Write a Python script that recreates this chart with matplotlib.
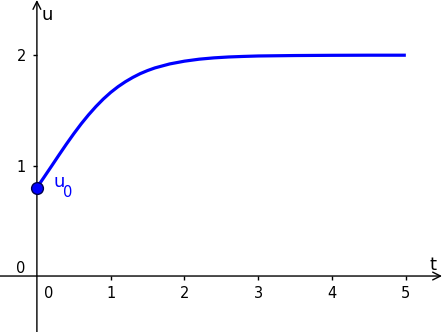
import numpy as np
import matplotlib.pyplot as plt

# values
t = [0, 0.1, 0.2, 0.3, 0.4, 0.5, 0.6, 0.7, 0.8, 0.9, 1.0, 1.1, 1.2, 1.3, 1.4,
     1.5, 1.6, 1.8, 2.0, 2.2, 2.4, 2.6, 2.8, 3.0, 3.5, 4.0, 4.5, 5.0]
u = [0.800, 0.898, 0.997, 1.097, 1.195, 1.289, 1.378, 1.460, 1.535, 1.603, 1.663,
     1.715, 1.760, 1.799, 1.833, 1.861, 1.885, 1.921, 1.946, 1.964, 1.976, 1.984,
     1.989, 1.993, 1.997, 1.999, 2.0, 2.0]
u0 = 0.8
xticks = [1, 2, 3, 4, 5]
yticks = [1, 2]

fig = plt.figure(figsize=(4.42, 3.32), dpi=100)
ax = fig.add_axes([0, 0, 1, 1])
ax.set_xlim(-0.50, 5.49)
ax.set_ylim(-0.507, 2.50)
ax.spines['top'].set_visible(False)
ax.spines['right'].set_visible(False)
# spines only carry the ticks, the axis lines are drawn as arrows
ax.spines['bottom'].set_position(('data', 0))
ax.spines['left'].set_position(('data', 0))
ax.spines['bottom'].set_color('none')
ax.spines['left'].set_color('none')

ax.annotate('', xy=(1, 0), xytext=(0, 0),
            xycoords=('axes fraction', 'data'), textcoords=('axes fraction', 'data'),
            arrowprops=dict(arrowstyle='->', lw=1, color='black', shrinkA=0, shrinkB=0,
                            mutation_scale=14))
ax.annotate('', xy=(0, 1), xytext=(0, 0),
            xycoords=('data', 'axes fraction'), textcoords=('data', 'axes fraction'),
            arrowprops=dict(arrowstyle='->', lw=1, color='black', shrinkA=0, shrinkB=0,
                            mutation_scale=14))

ax.set_xticks(xticks)
ax.set_yticks(yticks)
ax.tick_params(axis='x', direction='out', length=3, width=1, pad=4, labelsize=10.5,
               color='black')
ax.tick_params(axis='y', direction='out', length=3, width=1, pad=5, labelsize=10.5,
               color='black')

ax.text(0.16, -0.09, '0', fontsize=10.5, ha='center', va='top')
ax.text(-0.15, 0.07, '0', fontsize=10.5, ha='right', va='center')

ax.text(0.06, 2.36, 'u', fontsize=13, ha='left', va='center')
ax.text(5.41, 0.10, 't', fontsize=13, ha='right', va='center')

ax.plot(t, u, color='#0000ff', lw=2.3, solid_capstyle='butt', solid_joinstyle='round',
        zorder=3)
ax.plot([0], [u0], 'o', ms=8.5, mfc='#0000ff', mec='#00004c', mew=1, zorder=4)
ax.text(0.225, 0.855, 'u', fontsize=13, color='#0000ff', ha='left', va='center')
ax.text(0.35, 0.752, '0', fontsize=10.5, color='#0000ff', ha='left', va='center')

fig.savefig('out.png', dpi=100)
